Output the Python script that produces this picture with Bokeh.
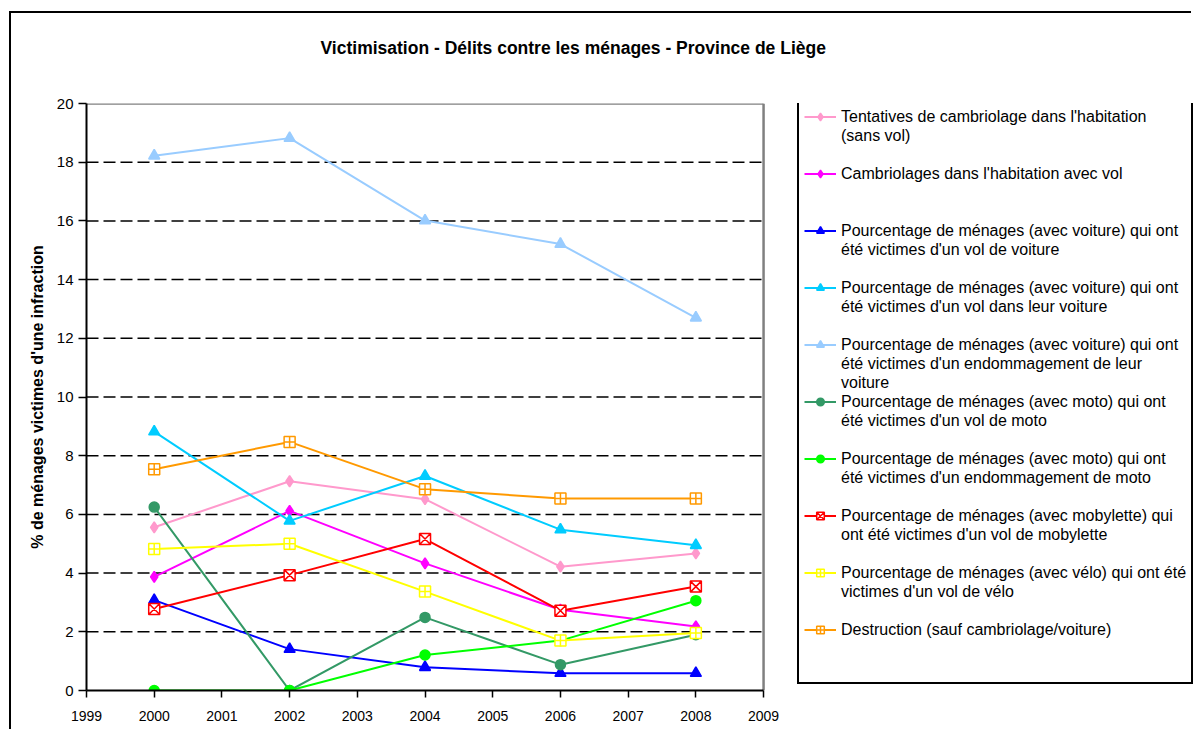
from bokeh.plotting import figure
from bokeh.models import Range1d, FixedTicker, Legend, LegendItem
from bokeh.embed import file_html
from bokeh.resources import INLINE

years = [2000, 2002, 2004, 2006, 2008]
x_ticks = list(range(1999, 2010))
y_ticks = list(range(0, 21, 2))
x_min, x_max = 1999, 2009
x_view_end = 2015.35   # frame continues under the legend area
y_min, y_max = 0, 20

tentatives = [5.56, 7.13, 6.52, 4.22, 4.67]
cambriolages = [3.87, 6.12, 4.33, 2.75, 2.18]
vol_voiture = [3.08, 1.41, 0.79, 0.59, 0.59]
vol_dans_voiture = [8.82, 5.78, 7.31, 5.48, 4.95]
endommagement_voiture = [18.22, 18.82, 16.01, 15.21, 12.70]
vol_moto = [6.25, 0.0, 2.49, 0.88, 1.90]
endommagement_moto = [0.0, 0.0, 1.21, 1.70, 3.06]
vol_mobylette = [2.78, 3.93, 5.16, 2.72, 3.54]
vol_velo = [4.82, 5.00, 3.37, 1.70, 1.96]
destruction = [7.54, 8.47, 6.86, 6.54, 6.54]

labels = [
    ["Tentatives de cambriolage dans l'habitation", "(sans vol)"],
    ["Cambriolages dans l'habitation avec vol"],
    ["Pourcentage de ménages (avec voiture) qui ont", "été victimes d'un vol de voiture"],
    ["Pourcentage de ménages (avec voiture) qui ont", "été victimes d'un vol dans leur voiture"],
    ["Pourcentage de ménages (avec voiture) qui ont", "été victimes d'un endommagement de leur", "voiture"],
    ["Pourcentage de ménages (avec moto) qui ont", "été victimes d'un vol de moto"],
    ["Pourcentage de ménages (avec moto) qui ont", "été victimes d'un endommagement de moto"],
    ["Pourcentage de ménages (avec mobylette) qui", "ont été victimes d'un vol de mobylette"],
    ["Pourcentage de ménages (avec vélo) qui ont été", "victimes d'un vol de vélo"],
    ["Destruction (sauf cambriolage/voiture)"],
]
series = [tentatives, cambriolages, vol_voiture, vol_dans_voiture, endommagement_voiture,
          vol_moto, endommagement_moto, vol_mobylette, vol_velo, destruction]
colors = ["#FF99CC", "#FF00FF", "#0000FF", "#00CCFF", "#99CCFF",
          "#339966", "#00FF00", "#FF0000", "#FFFF00", "#FF9900"]
markers = ["diamond", "diamond", "triangle", "triangle", "triangle",
           "circle", "circle", "square_x", "square_cross", "square_cross"]
sizes = [11, 11, 11, 11, 11, 10, 10, 11, 11, 11]
hollow = [False, False, False, False, False, False, False, True, True, True]

FONT = "Liberation Sans"

p = figure(width=1182, height=718, output_backend="svg", toolbar_location=None,
           x_range=Range1d(x_min, x_view_end), y_range=Range1d(y_min, y_max),
           min_border_left=75, min_border_right=0, min_border_top=89, min_border_bottom=41)
p.styles = {"margin-left": "9px", "margin-top": "11px",
            "border-left": "2px solid black", "border-top": "2px solid black"}

p.title.text = "Victimisation - Délits contre les ménages - Province de Liège"
p.title.text_font = FONT
p.title.text_font_size = "17.5px"
p.title.text_font_style = "bold"
p.title.text_color = "black"
p.title.align = "left"
p.title.offset = 234
p.title.vertical_align = "top"
try:
    p.title.padding = dict(left=0, right=0, top=0, bottom=20)
    p.title.standoff = 48
except Exception:
    p.title.standoff = 66

p.outline_line_color = None
p.xgrid.visible = False
p.ygrid.visible = False

# dashed horizontal grid lines, limited to the plot area (1999-2009)
grid_y = y_ticks[1:-1]
p.segment(x0=[x_min] * len(grid_y), x1=[x_max] * len(grid_y), y0=grid_y, y1=grid_y,
          line_color="black", line_width=1.5, line_dash="12 5")
# grey plot-area border (top and right)
p.segment(x0=[x_min, x_max], x1=[x_max, x_max], y0=[y_max, y_min], y1=[y_max, y_max],
          line_color="#808080", line_width=2.5)

p.xaxis.ticker = FixedTicker(ticks=x_ticks)
p.xaxis.bounds = (x_min, x_max)
p.yaxis.ticker = FixedTicker(ticks=y_ticks)
for ax in (p.xaxis[0], p.yaxis[0]):
    ax.axis_line_color = "black"
    ax.axis_line_width = 2
    ax.major_tick_line_color = "black"
    ax.major_tick_line_width = 1.5
    ax.major_tick_in = 0
    ax.minor_tick_line_color = None
    ax.major_label_text_font = FONT
    ax.major_label_text_color = "black"
p.xaxis.major_tick_out = 7
p.xaxis.major_label_standoff = 13
p.xaxis.major_label_text_font_size = "14px"
p.yaxis.major_tick_out = 8
p.yaxis.major_label_standoff = 5
p.yaxis.major_label_text_font_size = "15px"
p.yaxis.axis_label = "% de ménages victimes d'une infraction"
p.yaxis.axis_label_text_font = FONT
p.yaxis.axis_label_text_font_size = "16px"
p.yaxis.axis_label_text_font_style = "bold"
p.yaxis.axis_label_text_color = "black"
p.yaxis.axis_label_standoff = 8

items = []
for lines, ys, c, m, s, h in zip(labels, series, colors, markers, sizes, hollow):
    r1 = p.line(years, ys, line_color=c, line_width=2)
    r2 = p.scatter(years, ys, marker=m, size=s, line_color=c,
                   fill_color="white" if h else c, line_width=1.5)
    padded = lines + [" "] * (3 - len(lines))
    items.append(LegendItem(label=padded[0], renderers=[r1, r2]))
    for extra in padded[1:]:
        items.append(LegendItem(label=extra, renderers=[]))

legend = Legend(items=items, location=(711, 6))
try:
    legend.ncols = 1
except Exception:
    pass
legend.border_line_color = "black"
legend.border_line_alpha = 1
legend.border_line_width = 2
legend.background_fill_color = "white"
legend.background_fill_alpha = 1
legend.padding = 5
legend.spacing = 0
legend.glyph_width = 32
legend.glyph_height = 19
legend.label_height = 19
legend.label_standoff = 5
legend.label_text_font = FONT
legend.label_text_font_size = "16px"
legend.label_text_color = "black"
legend.margin = 0
p.add_layout(legend, "center")

open("out.html", "w").write(file_html(p, INLINE))
